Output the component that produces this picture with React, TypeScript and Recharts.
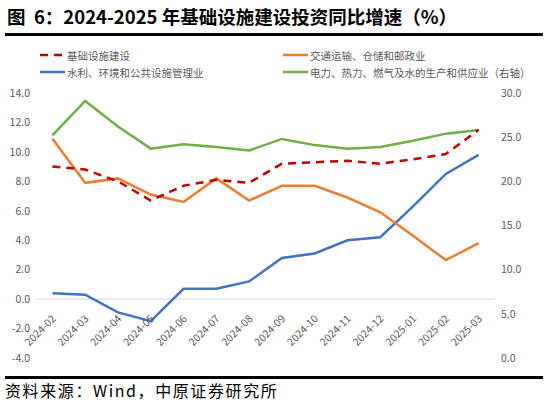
import React from 'react';
import { LineChart, Line, XAxis, YAxis, ReferenceLine } from 'recharts';

const categories = ['2024-02', '2024-03', '2024-04', '2024-05', '2024-06', '2024-07', '2024-08', '2024-09', '2024-10', '2024-11', '2024-12', '2025-01', '2025-02', '2025-03'];
const infraValues = [9.0, 8.8, 8.0, 6.7, 7.7, 8.1, 7.9, 9.2, 9.3, 9.4, 9.2, 9.5, 9.85, 11.5];
const transportValues = [10.9, 7.9, 8.2, 7.1, 6.6, 8.2, 6.7, 7.7, 7.7, 6.9, 5.9, 4.3, 2.65, 3.8];
const waterValues = [0.4, 0.3, -0.9, -1.5, 0.7, 0.7, 1.2, 2.8, 3.1, 4.0, 4.2, 6.3, 8.5, 9.8];
const powerValues = [25.2, 29.1, 26.2, 23.7, 24.2, 23.9, 23.5, 24.8, 24.1, 23.7, 23.9, 24.6, 25.4, 25.8];
const leftTicks = [-4, -2, 0, 2, 4, 6, 8, 10, 12, 14];
const rightTicks = [0, 5, 10, 15, 20, 25, 30];

const seriesNames = {
  infra: '基础设施建设',
  transport: '交通运输、仓储和邮政业',
  water: '水利、环境和公共设施管理业',
  power: '电力、热力、燃气及水的生产和供应业（右轴）',
};

const data = categories.map((m, i) => ({
  month: m,
  infra: infraValues[i],
  transport: transportValues[i],
  water: waterValues[i],
  power: powerValues[i],
}));

const W = 545;
const H = 409;
const TOP = 93;
const BOTTOM_GAP = 51;
const LEFT_W = 36;
const RIGHT_W = 50;
const PLOT_W = W - LEFT_W - RIGHT_W;
const PLOT_H = H - TOP - BOTTOM_GAP;
const HALF_BAND = PLOT_W / categories.length / 2;
const LMIN = leftTicks[0];
const LMAX = leftTicks[leftTicks.length - 1];
const ZERO_FROM_BOTTOM = (PLOT_H * (0 - LMIN)) / (LMAX - LMIN);

const FONT = '"Noto Sans CJK SC", "Microsoft YaHei", sans-serif';
const TICK_COLOR = '#595959';

const XTick = (props: any) => {
  const { x, payload } = props;
  const zy = TOP + PLOT_H - ZERO_FROM_BOTTOM;
  const ax = x + 1;
  const ay = zy + 17;
  return (
    <text
      x={ax}
      y={ay}
      transform={`rotate(-45, ${ax}, ${ay})`}
      textAnchor="end"
      dominantBaseline="central"
      fontSize={10.5}
      fontFamily={FONT}
      fill={TICK_COLOR}
    >
      {payload.value}
    </text>
  );
};

const legendItems = [
  { key: 'infra', color: '#C00000', dash: true, left: 40, top: 47 },
  { key: 'transport', color: '#ED7D31', dash: false, left: 283, top: 47 },
  { key: 'water', color: '#4472C4', dash: false, left: 40, top: 64 },
  { key: 'power', color: '#70AD47', dash: false, left: 283, top: 64 },
];

export default function App() {
  return (
    <div style={{ position: 'absolute', left: 0, top: 0, width: W, height: H, background: '#fff', fontFamily: FONT, overflow: 'hidden' }}>
      <div style={{ position: 'absolute', left: 7, top: 4, fontSize: 18.5, fontWeight: 700, color: '#000', whiteSpace: 'pre', lineHeight: '24px' }}>
        {'图  6：2024-2025 年基础设施建设投资同比增速（%）'}
      </div>
      <div style={{ position: 'absolute', left: 5, top: 33, width: 538, height: 3, background: '#000' }} />
      {legendItems.map((it) => (
        <div key={it.key} style={{ position: 'absolute', left: it.left, top: it.top, height: 16, display: 'flex', alignItems: 'center', whiteSpace: 'nowrap' }}>
          <svg width={26} height={16} style={{ display: 'block' }}>
            <line x1={0} y1={8} x2={25} y2={8} stroke={it.color} strokeWidth={2.5} strokeDasharray={it.dash ? '8 6' : undefined} />
          </svg>
          <span style={{ fontSize: 10.5, color: TICK_COLOR, marginLeft: 1 }}>{(seriesNames as any)[it.key]}</span>
        </div>
      ))}
      <div style={{ position: 'absolute', left: 0, top: 0 }}>
        <LineChart width={W} height={H} data={data} margin={{ top: TOP, right: 0, bottom: 0, left: 0 }}>
          <XAxis
            dataKey="month"
            height={BOTTOM_GAP}
            axisLine={false}
            tickLine={false}
            tick={<XTick />}
            interval={0}
            padding={{ left: HALF_BAND, right: HALF_BAND }}
          />
          <YAxis
            yAxisId="left"
            orientation="left"
            width={LEFT_W}
            domain={[LMIN, LMAX]}
            ticks={leftTicks}
            axisLine={false}
            tickLine={false}
            tickMargin={0}
            tickFormatter={(v: number) => v.toFixed(1)}
            tick={{ fontSize: 10.5, fill: TICK_COLOR, fontFamily: FONT }}
          />
          <YAxis
            yAxisId="right"
            orientation="right"
            width={RIGHT_W}
            domain={[0, 30]}
            ticks={rightTicks}
            axisLine={false}
            tickLine={false}
            tickMargin={0}
            tickFormatter={(v: number) => v.toFixed(1)}
            tick={{ fontSize: 10.5, fill: TICK_COLOR, fontFamily: FONT }}
          />
          <ReferenceLine yAxisId="left" y={0} stroke="#D9D9D9" strokeWidth={1} />
          <Line yAxisId="right" type="linear" dataKey="power" stroke="#70AD47" strokeWidth={2.5} dot={false} isAnimationActive={false} />
          <Line yAxisId="left" type="linear" dataKey="water" stroke="#4472C4" strokeWidth={2.5} dot={false} isAnimationActive={false} />
          <Line yAxisId="left" type="linear" dataKey="transport" stroke="#ED7D31" strokeWidth={2.5} dot={false} isAnimationActive={false} />
          <Line yAxisId="left" type="linear" dataKey="infra" stroke="#C00000" strokeWidth={2.5} strokeDasharray="8 6" dot={false} isAnimationActive={false} />
        </LineChart>
      </div>
      <div style={{ position: 'absolute', left: 5, top: 376, width: 538, height: 3, background: '#000' }} />
      <div style={{ position: 'absolute', left: 5, top: 379, fontSize: 16, letterSpacing: 1.6, color: '#000', whiteSpace: 'nowrap', lineHeight: '22px' }}>
        资料来源：Wind，中原证券研究所
      </div>
    </div>
  );
}
